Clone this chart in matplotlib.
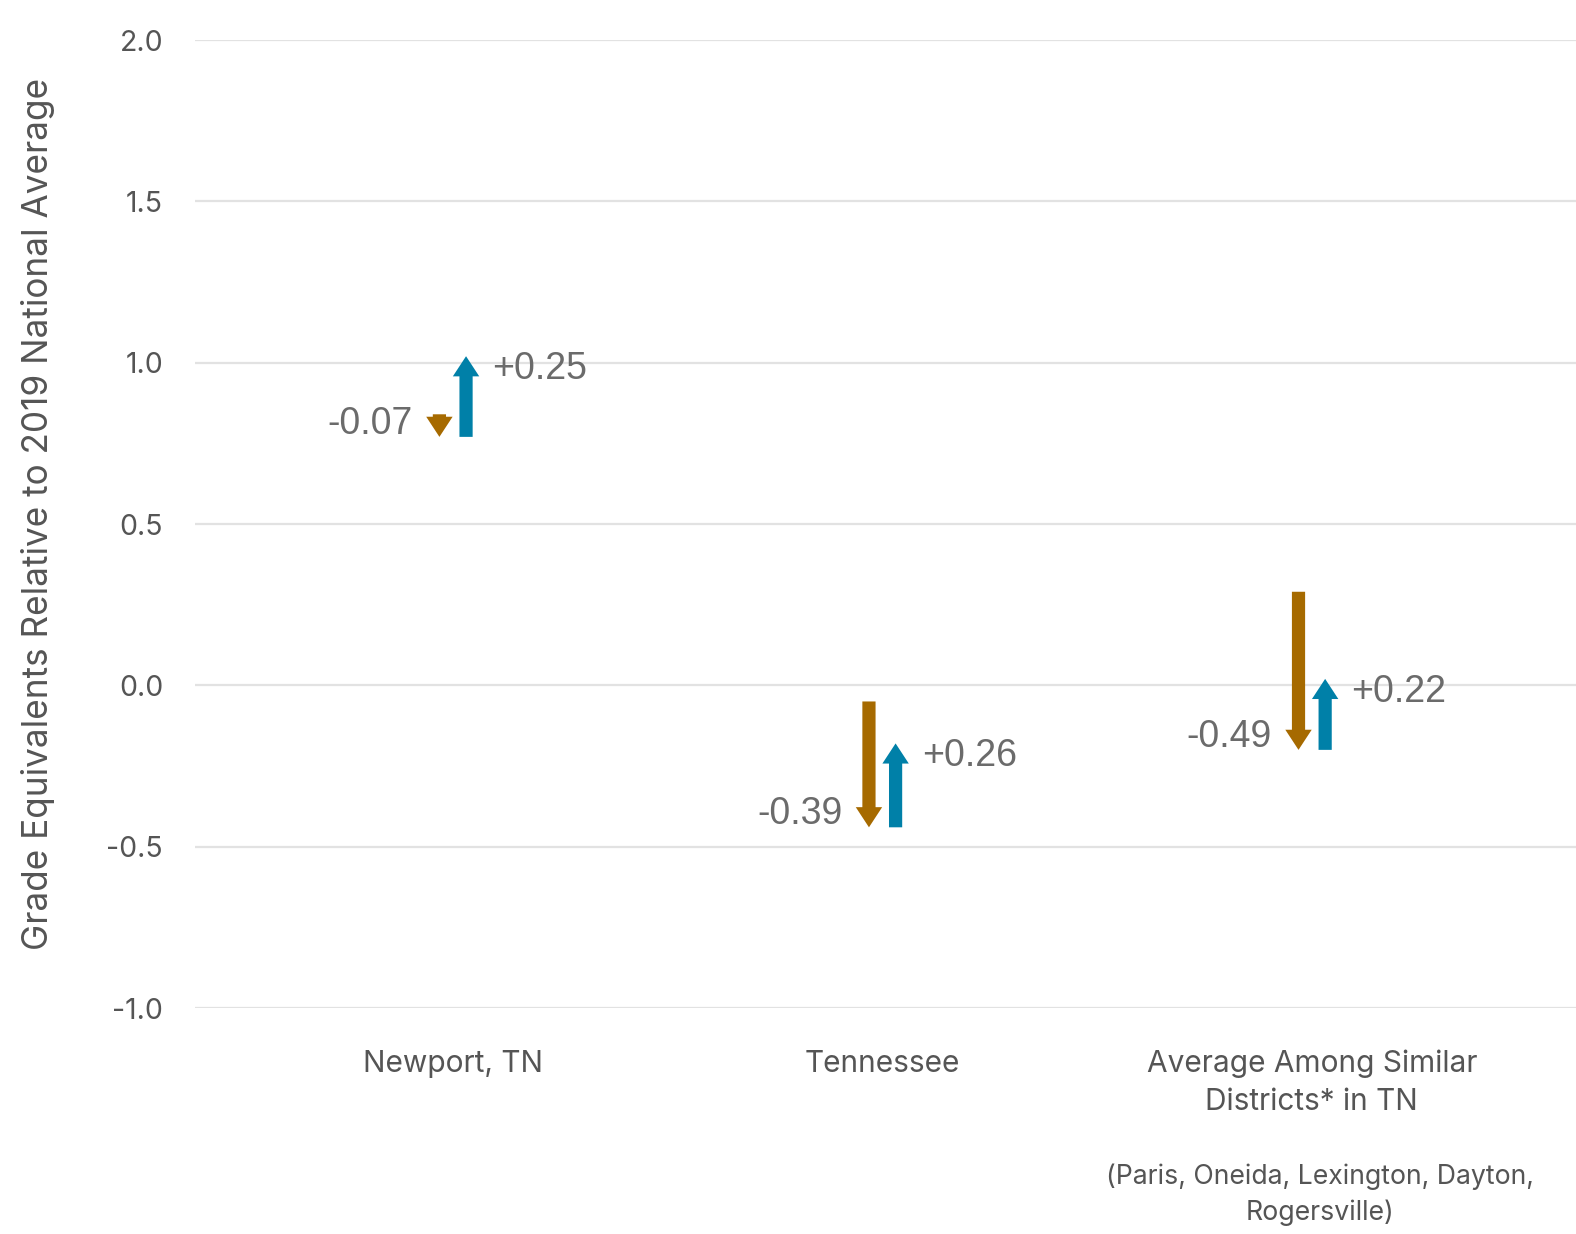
import matplotlib
matplotlib.use('Agg')
import matplotlib.pyplot as plt
from matplotlib.patches import FancyArrowPatch
from matplotlib.transforms import blended_transform_factory

# data
categories = ["Newport, TN", "Tennessee", "Average Among Similar\nDistricts* in TN"]
start_values = [0.84, -0.05, 0.29]      # top of the brown (decline) arrow
decline = [-0.07, -0.39, -0.49]
recovery = [0.25, 0.26, 0.22]
yticks = [-1.0, -0.5, 0.0, 0.5, 1.0, 1.5, 2.0]
subnote = "(Paris, Oneida, Lexington, Dayton,\nRogersville)"

BROWN = "#A66A00"
BLUE = "#0080A8"
GRID = "#e2e2e2"
TXT = "#555555"
VAL = "#6b6b6b"

plt.rcParams["font.family"] = ["Inter", "DejaVu Sans"]

fig = plt.figure(figsize=(15.76, 12.34), dpi=100)
ax = fig.add_axes([195 / 1576, 1 - 1008 / 1234, (1576 - 195) / 1576, (1008 - 40) / 1234])

ax.set_ylim(-1.0, 2.0)
ax.set_xlim(-0.6, 2.615)
for s in ax.spines.values():
    s.set_visible(False)
ax.set_yticks(yticks)
ax.set_yticklabels([f"{v:.1f}" for v in yticks])
ax.yaxis.grid(True, color=GRID, linewidth=1.6)
ax.set_axisbelow(True)
ax.tick_params(axis="y", length=0, pad=23, labelsize=20.5, labelcolor=TXT)
ax.set_xticks(range(len(categories)))
ax.set_xticklabels(categories, linespacing=1.45)
ax.tick_params(axis="x", length=0, pad=30, labelsize=21.5, labelcolor=TXT)

fig.text(38 / 1576, 1 - 514 / 1234, "Grade Equivalents Relative to 2019 National Average",
         rotation=90, ha="center", va="center", fontsize=25.3, color=TXT)

off = 0.031
style = "simple,head_length=14.5,head_width=19,tail_width=9.5"
value_font = ["Liberation Sans", "DejaVu Sans"]

for i in range(len(categories)):
    top = start_values[i]
    bottom = top + decline[i]
    peak = bottom + recovery[i]

    ax.add_patch(FancyArrowPatch((i - off, top), (i - off, bottom), arrowstyle=style,
                                 mutation_scale=1, shrinkA=0, shrinkB=0,
                                 color=BROWN, linewidth=0))
    ax.add_patch(FancyArrowPatch((i + off, bottom), (i + off, peak), arrowstyle=style,
                                 mutation_scale=1, shrinkA=0, shrinkB=0,
                                 color=BLUE, linewidth=0))

    ax.annotate(f"{decline[i]:.2f}", (i - off, bottom + 0.04), xytext=(-19, 0),
                textcoords="offset points", ha="right", va="center",
                fontsize=27, color=VAL, family=value_font)
    ax.annotate(f"+{recovery[i]:.2f}", (i + off, peak - 0.04), xytext=(19, 0),
                textcoords="offset points", ha="left", va="center",
                fontsize=27, color=VAL, family=value_font)

trans = blended_transform_factory(ax.transData, fig.transFigure)
ax.text(2.02, 1 - 1195 / 1234, subnote, transform=trans, ha="center", va="center",
        fontsize=19.2, color=TXT, linespacing=1.45)

fig.savefig("out.png", dpi=100)
plt.close(fig)
